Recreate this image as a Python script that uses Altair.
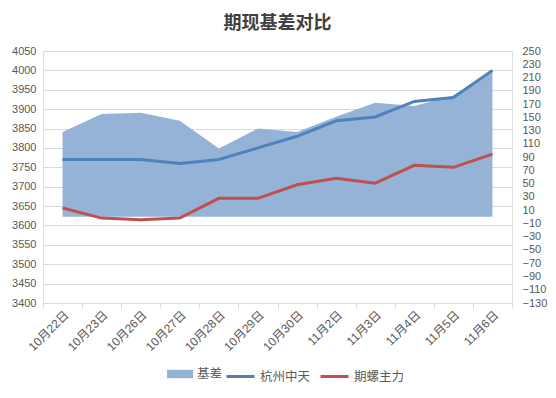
import altair as alt
import pandas as pd

dates = ["10月22日", "10月23日", "10月26日", "10月27日", "10月28日", "10月29日",
         "10月30日", "11月2日", "11月3日", "11月4日", "11月5日", "11月6日"]
spot = [3770, 3770, 3770, 3760, 3770, 3800, 3830, 3870, 3880, 3920, 3930, 4000]
futures = [3645, 3619, 3615, 3619, 3670, 3670, 3705, 3722, 3709, 3755, 3750, 3784]
basis = [128, 155, 157, 145, 103, 133, 128, 151, 172, 167, 183, 220]

line_names = ["杭州中天", "期螺主力"]
line_colors = ["#4f81bd", "#c0504d"]
area_name = "基差"
area_color = "#95b3d7"

lines_df = pd.DataFrame({
    "date": dates * 2,
    "value": spot + futures,
    "series": [line_names[0]] * len(dates) + [line_names[1]] * len(dates),
})
basis_df = pd.DataFrame({"date": dates, "value": basis, "series": [area_name] * len(dates)})

FONT = "Noto Sans CJK SC"
NUMFONT = "Liberation Sans, Noto Sans CJK SC"
GRAY = "#595959"

x_enc = alt.X(
    "date:N", sort=dates, title=None, bandPosition=0.5,
    scale=alt.Scale(type="band", paddingInner=0, paddingOuter=0),
    axis=alt.Axis(labelAngle=315, labelAlign="right", labelBaseline="top",
                  tickBand="extent", domainColor="#d9d9d9", tickColor="#d9d9d9",
                  tickSize=5, labelColor=GRAY, labelFontSize=12, labelFont=NUMFONT,
                  labelPadding=1, grid=False),
)

area = alt.Chart(basis_df).mark_area(opacity=1).encode(
    x=x_enc,
    y=alt.Y("value:Q", title=None,
            scale=alt.Scale(domain=[-130, 250], nice=False, zero=False),
            axis=alt.Axis(orient="right", values=list(range(-130, 251, 20)), grid=False,
                          format="d", labelOverlap=False,
                          domain=False, ticks=False, labelColor=GRAY, labelFontSize=11,
                          labelFont=NUMFONT, labelPadding=10)),
    fill=alt.Fill("series:N",
                  scale=alt.Scale(domain=[area_name], range=[area_color]),
                  legend=alt.Legend(title=None, orient="none", legendX=124, legendY=310,
                                    direction="horizontal",
                                    symbolType="M-1,-0.32H1V0.32H-1Z", symbolSize=676,
                                    symbolStrokeWidth=0, labelFontSize=12.5, labelColor=GRAY,
                                    labelFont=FONT, labelOffset=4, padding=0)),
)

lines = alt.Chart(lines_df).mark_line(strokeWidth=3).encode(
    x=x_enc,
    y=alt.Y("value:Q", title=None,
            scale=alt.Scale(domain=[3400, 4050], nice=False, zero=False),
            axis=alt.Axis(orient="left", values=list(range(3400, 4051, 50)), grid=True,
                          format="d", labelOverlap=False,
                          gridColor="#d9d9d9", domain=False, ticks=False, labelColor=GRAY,
                          labelFontSize=11, labelFont=NUMFONT, labelPadding=7)),
    stroke=alt.Stroke("series:N",
                      scale=alt.Scale(domain=line_names, range=line_colors),
                      legend=alt.Legend(title=None, orient="none", legendX=182, legendY=310,
                                        direction="horizontal", symbolType="stroke",
                                        symbolSize=784, symbolStrokeWidth=3,
                                        labelFontSize=12.5, labelColor=GRAY, labelFont=FONT,
                                        labelOffset=4, columnPadding=3, padding=0)),
)

chart = alt.layer(area, lines).resolve_scale(
    y="independent", fill="independent", stroke="independent"
).properties(
    width=469, height=252,
    autosize="none",
    padding={"left": 35, "top": 43, "right": 36, "bottom": 90},
    title=alt.Title("期现基差对比", fontSize=18, font=FONT, fontWeight="bold",
                    color="#404040", offset=12, anchor="middle"),
).configure_view(stroke=None).configure(background="white")

chart.save("out.html", embed_options={"renderer": "svg", "actions": False})
